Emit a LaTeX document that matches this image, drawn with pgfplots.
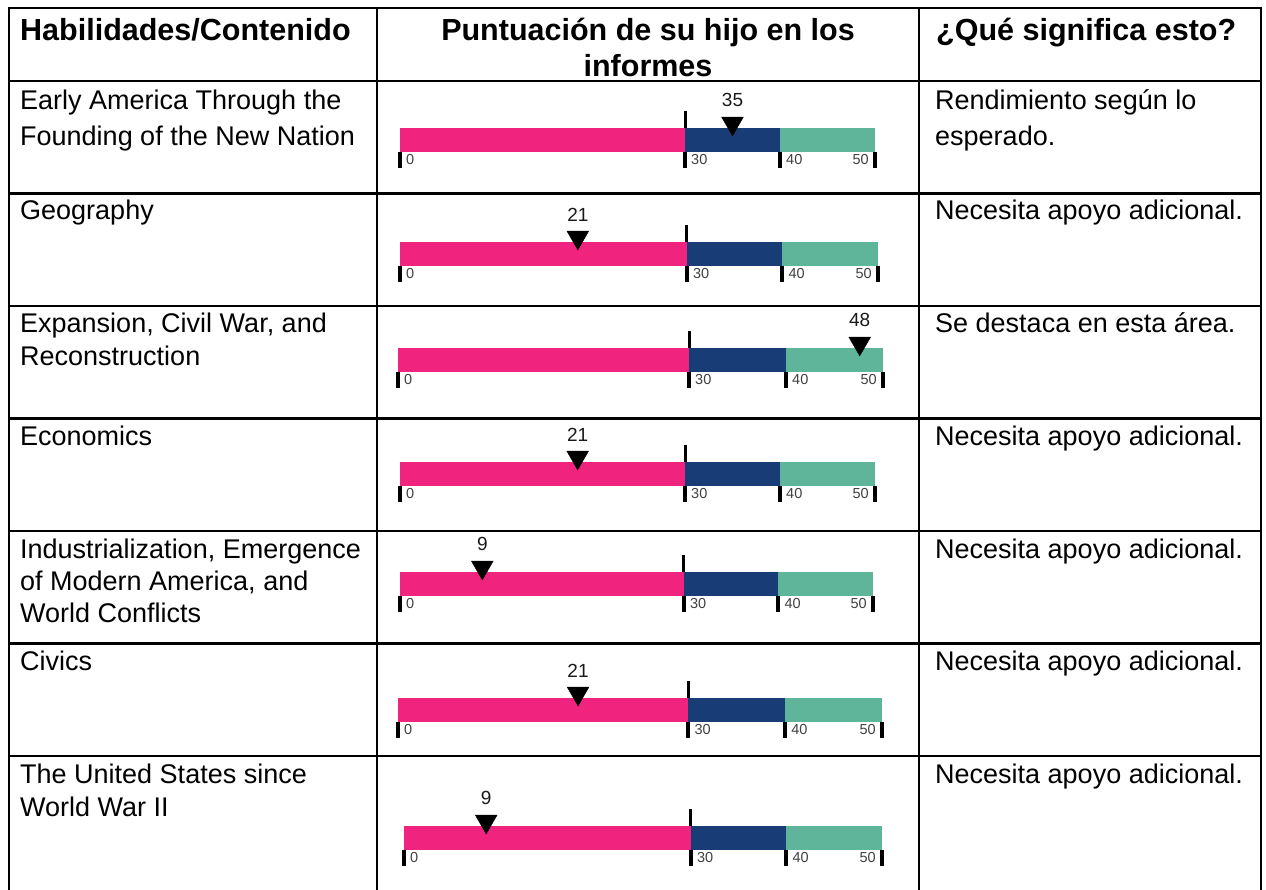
\documentclass[border=0pt]{standalone}
\usepackage{fontspec}
\setmainfont{Liberation Sans}
\usepackage{pgfplots}
\pgfplotsset{compat=1.18}
\definecolor{pinkbar}{RGB}{240,36,126}
\definecolor{navybar}{RGB}{24,60,118}
\definecolor{tealbar}{RGB}{94,181,153}
\newcommand{\bodyfont}{\fontsize{27}{33}\selectfont}
\newcommand{\headfont}{\fontsize{30.5}{36}\selectfont\bfseries}
\newcommand{\valfont}{\fontsize{19}{22}\selectfont}
\newcommand{\tickfont}{\fontsize{14.5}{17}\selectfont}
% #1 x of 0, #2 width (0..50), #3 y of bar bottom, #4 marker position, #5 label
\newcommand{\scorebar}[5]{%
\begin{axis}[at={(#1pt,-#3pt)}, anchor=south west, scale only axis,
  width=#2pt, height=24pt, xmin=0, xmax=50, ymin=0, ymax=1,
  hide axis, clip=false]
 \addplot[ycomb, black, line width=3pt, mark=none] coordinates {(30,1.7)};
 \addplot[xbar, bar width=24pt, bar shift=0pt, fill=tealbar, draw=none] coordinates {(50,0.5)};
 \addplot[xbar, bar width=24pt, bar shift=0pt, fill=navybar, draw=none] coordinates {(40,0.5)};
 \addplot[xbar, bar width=24pt, bar shift=0pt, fill=pinkbar, draw=none] coordinates {(30,0.5)};
 \addplot[ycomb, black, line width=4pt, mark=none] coordinates {(0,-0.65) (30,-0.65) (40,-0.65) (50,-0.65)};
 \addplot[only marks, mark=triangle*, mark size=12.5pt,
   mark options={rotate=180, fill=black, draw=black}] coordinates {(#4,1.19)};
 \node[font=\valfont, text=black!90] at (axis cs:#4,2.15) {#5};
 \node[anchor=west, font=\tickfont, text=black!75, inner sep=0, xshift=6pt] at (axis cs:0,-0.32) {0};
 \node[anchor=west, font=\tickfont, text=black!75, inner sep=0, xshift=6pt] at (axis cs:30,-0.32) {30};
 \node[anchor=west, font=\tickfont, text=black!75, inner sep=0, xshift=6pt] at (axis cs:40,-0.32) {40};
 \node[anchor=east, font=\tickfont, text=black!75, inner sep=0, xshift=-6pt] at (axis cs:50,-0.32) {50};
\end{axis}}
\newcommand{\ltext}[3]{\node[anchor=base west, inner sep=0, font=\bodyfont] at (#1,#2) {#3};}
\begin{document}
\begin{tikzpicture}[x=1pt,y=-1pt]
\path[use as bounding box] (0,0) rectangle (1266,890);
% table rules
\foreach \yy in {8,81,193.5,306,418.5,531,643.5,756}
  \draw[line width=2.2pt] (8,\yy) -- (1262,\yy);
\foreach \xx in {9,377,919,1261}
  \draw[line width=2.2pt] (\xx,6.9) -- (\xx,890);
% header
\node[anchor=base west, inner sep=0, font=\headfont] at (20,41) {Habilidades/Contenido};
\node[anchor=base, inner sep=0, font=\headfont] at (648,41) {Puntuación de su hijo en los};
\node[anchor=base, inner sep=0, font=\headfont] at (648,77) {informes};
\node[anchor=base west, inner sep=0, font=\headfont] at (936,41) {¿Qué significa esto?};
% column 1
\ltext{20}{110}{Early America Through the}
\ltext{20}{146}{Founding of the New Nation}
\ltext{20}{220}{Geography}
\ltext{20}{333}{Expansion, Civil War, and}
\ltext{20}{366}{Reconstruction}
\ltext{20}{445}{Economics}
\ltext{20}{558}{Industrialization, Emergence}
\ltext{20}{590}{of Modern America, and}
\ltext{20}{622}{World Conflicts}
\ltext{20}{670}{Civics}
\ltext{20}{783}{The United States since}
\ltext{20}{816}{World War II}
% column 3
\ltext{935}{110}{Rendimiento según lo}
\ltext{935}{146}{esperado.}
\ltext{935}{220}{Necesita apoyo adicional.}
\ltext{935}{333}{Se destaca en esta área.}
\ltext{935}{445}{Necesita apoyo adicional.}
\ltext{935}{558}{Necesita apoyo adicional.}
\ltext{935}{670}{Necesita apoyo adicional.}
\ltext{935}{783}{Necesita apoyo adicional.}
% score bars
\scorebar{400}{475}{152}{35}{35}
\scorebar{400}{478}{266}{18.6}{21}
\scorebar{398}{485}{372}{47.6}{48}
\scorebar{400}{475}{486}{18.7}{21}
\scorebar{400}{473}{596}{8.7}{9}
\scorebar{398}{484}{722}{18.6}{21}
\scorebar{404}{478}{850}{8.6}{9}
\end{tikzpicture}
\end{document}
